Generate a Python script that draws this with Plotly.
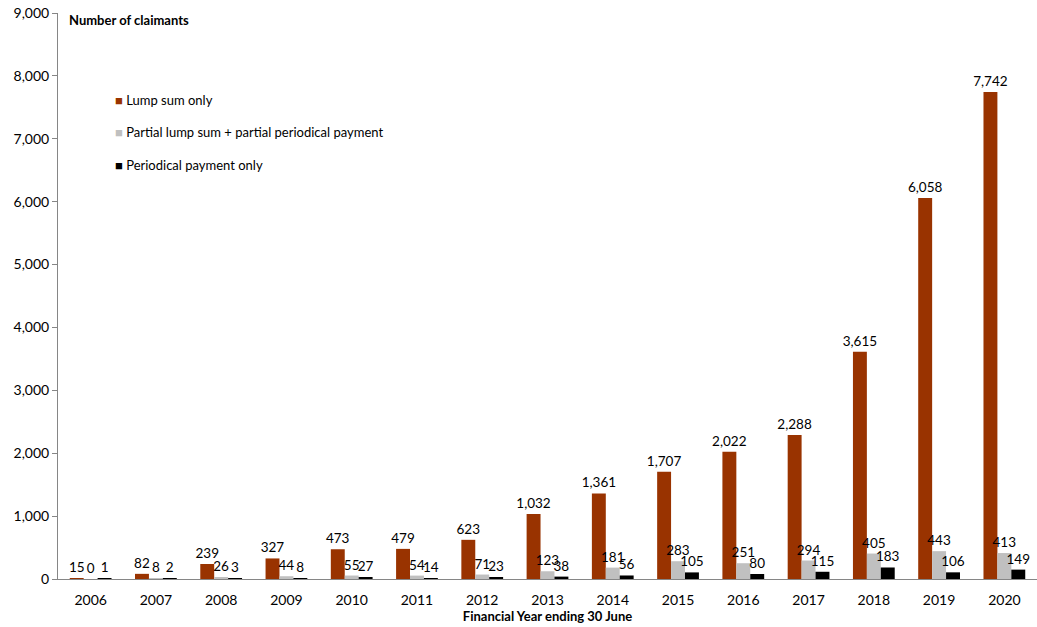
import plotly.graph_objects as go

years = ["2006", "2007", "2008", "2009", "2010", "2011", "2012", "2013",
         "2014", "2015", "2016", "2017", "2018", "2019", "2020"]
lump_sum = [15, 82, 239, 327, 473, 479, 623, 1032, 1361, 1707, 2022, 2288, 3615, 6058, 7742]
partial = [0, 8, 26, 44, 55, 54, 71, 123, 181, 283, 251, 294, 405, 443, 413]
periodical = [1, 2, 3, 8, 27, 14, 23, 38, 56, 105, 80, 115, 183, 106, 149]

series = [
    ("Lump sum only", lump_sum, "#993300"),
    ("Partial lump sum + partial periodical payment", partial, "#c0c0c0"),
    ("Periodical payment only", periodical, "#000000"),
]

FONT = "Lato, 'Open Sans', sans-serif"

fig = go.Figure()
for i, (name, vals, color) in enumerate(series):
    fig.add_trace(go.Bar(
        x=years, y=vals, name=name, marker_color=color,
        marker_line_width=0,
        text=vals, texttemplate="%{y:,}", textposition="outside",
        textfont=dict(size=13.5, color="#000000", family=FONT),
        constraintext="none", cliponaxis=False,
        showlegend=False,
    ))

fig.update_layout(
    width=1037, height=627,
    margin=dict(l=58, r=0, t=13, b=48),
    paper_bgcolor="white", plot_bgcolor="white",
    barmode="group", bargap=0.36, bargroupgap=0,
    font=dict(family=FONT, size=13, color="#000000"),
    showlegend=False,
)

fig.update_xaxes(
    showline=True, linecolor="#868686", linewidth=1,
    ticks="", showgrid=False, ticklabelstandoff=8,
    tickfont=dict(size=14, family=FONT),
    title=dict(text="<b>Financial Year ending 30 June</b>",
               font=dict(size=13, family=FONT), standoff=4),
)
fig.update_yaxes(
    range=[0, 9000], dtick=1000, tickformat=",",
    showline=True, linecolor="#868686", linewidth=1,
    ticks="outside", ticklen=5, tickcolor="#868686",
    showgrid=False, zeroline=False,
    tickfont=dict(size=14, family=FONT),
)

fig.add_annotation(
    text="<b>Number of claimants</b>", xref="paper", yref="paper",
    x=0.009, y=0.988, xanchor="left", yanchor="middle", showarrow=False,
    font=dict(size=13, family=FONT),
)

# Legend drawn as swatch + label rows
for i, (name, _, color) in enumerate(series):
    y_px = 100 + i * 32.5
    y_paper = (579 - y_px) / 566
    fig.add_annotation(
        text=f"<span style='color:{color}'>■</span> {name}",
        xref="paper", yref="paper", x=(113 - 58) / 979, y=y_paper,
        xanchor="left", yanchor="middle", showarrow=False,
        font=dict(size=13, family=FONT),
    )

fig.write_html("out.html")
